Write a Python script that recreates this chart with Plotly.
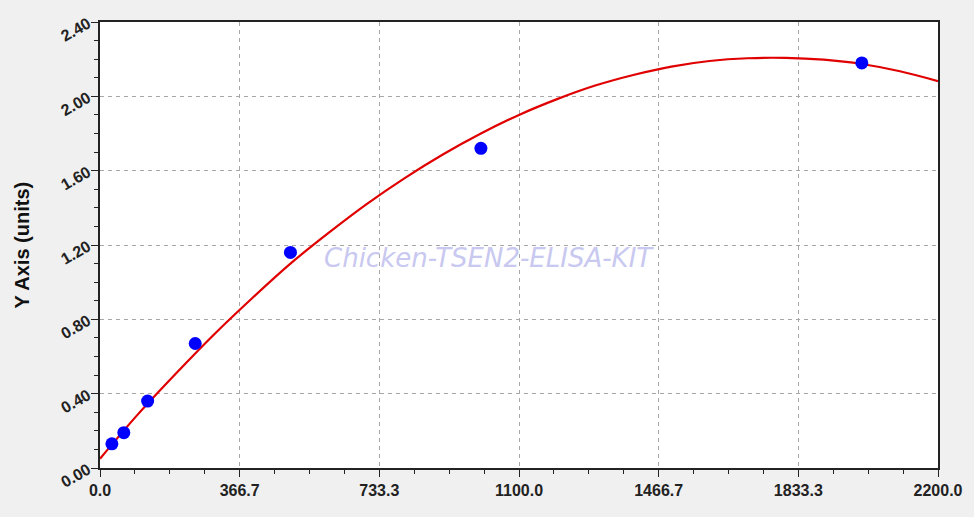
import plotly.graph_objs as go

# standard points (concentration vs OD)
conc = [31.25, 62.5, 125, 250, 500, 1000, 2000]
od = [0.13, 0.19, 0.36, 0.67, 1.16, 1.72, 2.18]

# fitted curve
curve_x = [0, 100, 200, 300, 400, 500, 600, 700, 800, 900, 1000, 1100,
           1200, 1300, 1400, 1500, 1600, 1700, 1800, 1900, 2000, 2100, 2200]
curve_y = [0.05, 0.29, 0.51, 0.72, 0.915, 1.10, 1.265, 1.42, 1.56, 1.687, 1.80, 1.90,
           1.985, 2.058, 2.115, 2.16, 2.19, 2.205, 2.207, 2.197, 2.174, 2.135, 2.082]

x_ticks = [0, 366.7, 733.3, 1100.0, 1466.7, 1833.3, 2200.0]
x_tick_text = ["0.0", "366.7", "733.3", "1100.0", "1466.7", "1833.3", "2200.0"]

fig = go.Figure()
fig.add_trace(go.Scatter(x=curve_x, y=curve_y, mode='lines', line_shape='spline',
                         line=dict(color='#e00000', width=2.2), hoverinfo='skip'))
fig.add_trace(go.Scatter(x=conc, y=od, mode='markers',
                         marker=dict(color='#0000ff', size=13)))

tick_font = dict(family='Liberation Sans, Arial', size=16, color='#222222', weight='bold')
axis_common = dict(showgrid=True, gridcolor='#a8a8a8', griddash='4px,4px', gridwidth=1,
                   showline=True, linecolor='#222222', linewidth=1.5, mirror=True,
                   ticks='outside', ticklen=7, tickcolor='#222222',
                   tickfont=tick_font, zeroline=False)

fig.update_layout(
    width=974, height=517,
    margin=dict(l=100, r=36, t=22, b=49),
    paper_bgcolor='#f0f0f0', plot_bgcolor='white',
    showlegend=False,
    xaxis=dict(range=[0, 2200], tickvals=x_ticks, ticktext=x_tick_text,
               minor=dict(dtick=2200 / 24, tick0=0, ticks='outside', ticklen=4,
                          tickcolor='#222222', showgrid=False),
               **axis_common),
    yaxis=dict(range=[0, 2.4], dtick=0.4, tick0=0, tickformat='.2f', tickangle=-30,
               minor=dict(dtick=0.1, tick0=0, ticks='outside', ticklen=4,
                          tickcolor='#222222', showgrid=False),
               **axis_common),
)

# y axis title placed by hand, the auto title sits too close
fig.add_annotation(text='<b>Y Axis (units)</b>', textangle=-90,
                   x=-0.108, y=0.5, xref='paper', yref='paper', showarrow=False,
                   font=dict(family='Liberation Sans, Arial', size=20, color='#111111'))

fig.add_annotation(text='<i>Chicken-TSEN2-ELISA-KIT</i>', x=0.464, y=0.47,
                   xref='paper', yref='paper', showarrow=False,
                   font=dict(family='DejaVu Sans', size=26, color='#c8c8f0'))

fig.write_html("out.html", config={'displayModeBar': False},
               post_script="document.body.style.margin='0';"
                           "document.body.style.background='#f0f0f0';")
